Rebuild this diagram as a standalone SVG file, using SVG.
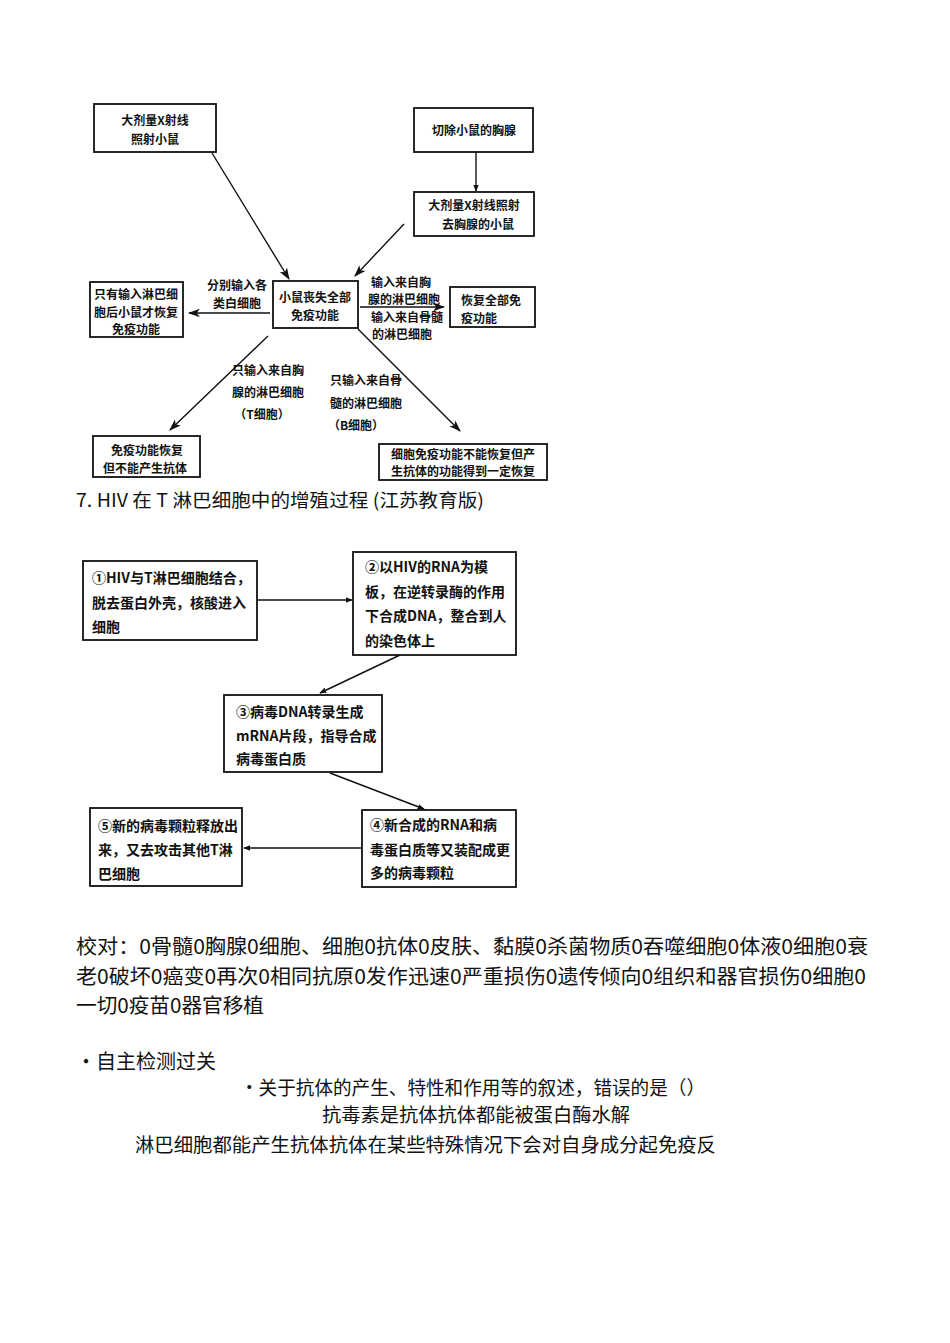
<svg xmlns="http://www.w3.org/2000/svg" width="950" height="1343" viewBox="0 0 950 1343">
<style>
.box{fill:#fff;stroke:#111;stroke-width:1.8}
.t{font-family:"Noto Sans CJK SC","Liberation Serif",serif;font-size:12px;font-weight:bold;fill:#111}
.m{text-anchor:middle}
.t2{font-family:"Noto Sans CJK SC","Liberation Serif",serif;font-size:14px;font-weight:bold;fill:#111}
.c{fill:none;stroke:#111;stroke-width:1.4}
.body{font-family:"Noto Sans CJK SC","Liberation Serif",serif;font-size:20px;fill:#111}
.s{font-family:"Noto Sans CJK SC","Liberation Sans",sans-serif;fill:#111}
</style>
<defs>
<marker id="ah" viewBox="0 0 10 10" refX="9" refY="5" markerWidth="7" markerHeight="7" orient="auto" markerUnits="userSpaceOnUse">
<path d="M0,1 L10,5 L0,9 Z" fill="#111"/>
</marker>
<marker id="ah2" viewBox="0 0 10 10" refX="9" refY="5" markerWidth="12" markerHeight="12" orient="auto" markerUnits="userSpaceOnUse">
<path d="M0,1.5 L10,5 L0,8.5 L2.5,5 Z" fill="#111"/>
</marker>
</defs>
<rect width="950" height="1343" fill="#fff"/>

<g id="connectors">
<line class="c" x1="212" y1="153" x2="289" y2="279" marker-end="url(#ah2)"/>
<line class="c" x1="476" y1="152" x2="476" y2="191" marker-end="url(#ah)"/>
<line class="c" x1="404" y1="224" x2="355" y2="276" marker-end="url(#ah2)"/>
<line class="c" x1="270" y1="313" x2="189" y2="313" marker-end="url(#ah2)"/>
<line class="c" x1="360" y1="307" x2="444" y2="307" marker-end="url(#ah2)"/>
<line class="c" x1="268" y1="336" x2="170" y2="430" marker-end="url(#ah2)"/>
<line class="c" x1="358" y1="329" x2="460" y2="431" marker-end="url(#ah2)"/>
<line class="c" x1="257" y1="600" x2="352" y2="600" marker-end="url(#ah)"/>
<line class="c" x1="400" y1="655" x2="320" y2="693" marker-end="url(#ah)"/>
<line class="c" x1="330" y1="773" x2="424" y2="809" marker-end="url(#ah)"/>
<line class="c" x1="362" y1="848" x2="244" y2="848" marker-end="url(#ah)"/>
</g>

<g id="label-left">
<text class="t m" x="237" y="290">分别输入各</text>
<text class="t m" x="237" y="308">类白细胞</text>
</g>
<g id="label-right">
<text class="t m" x="401" y="287">输入来自胸</text>
<text class="t m" x="404" y="304">腺的淋巴细胞</text>
<text class="t m" x="407" y="322">输入来自骨髓</text>
<text class="t m" x="402" y="339">的淋巴细胞</text>
</g>
<g id="label-T">
<text class="t m" x="268" y="375">只输入来自胸</text>
<text class="t m" x="268" y="397">腺的淋巴细胞</text>
<text class="t m" x="262" y="419">（T细胞）</text>
</g>
<g id="label-B">
<text class="t m" x="366" y="385">只输入来自骨</text>
<text class="t m" x="366" y="408">髓的淋巴细胞</text>
<text class="t m" x="356" y="430">（B细胞）</text>
</g>

<g id="nodeA">
<rect class="box" x="94" y="104" width="122" height="48"/>
<text class="t m" x="155" y="125">大剂量X射线</text>
<text class="t m" x="155" y="144">照射小鼠</text>
</g>
<g id="nodeB">
<rect class="box" x="414" y="108" width="119" height="44"/>
<text class="t m" x="474" y="135">切除小鼠的胸腺</text>
</g>
<g id="nodeC">
<rect class="box" x="414" y="192" width="120" height="44"/>
<text class="t m" x="474" y="210">大剂量X射线照射</text>
<text class="t m" x="478" y="229">去胸腺的小鼠</text>
</g>
<g id="nodeCenter">
<rect class="box" x="273" y="281" width="85" height="47"/>
<text class="t m" x="315" y="302">小鼠丧失全部</text>
<text class="t m" x="315" y="320">免疫功能</text>
</g>
<g id="nodeLeft">
<rect class="box" x="90" y="282" width="93" height="55"/>
<text class="t m" x="136" y="299">只有输入淋巴细</text>
<text class="t m" x="136" y="317">胞后小鼠才恢复</text>
<text class="t m" x="136" y="334">免疫功能</text>
</g>
<g id="nodeRight">
<rect class="box" x="450" y="287" width="85" height="40"/>
<text class="t" x="461" y="305">恢复全部免</text>
<text class="t" x="461" y="323">疫功能</text>
</g>
<g id="nodeBL">
<rect class="box" x="93" y="436" width="107" height="41"/>
<text class="t m" x="147" y="455">免疫功能恢复</text>
<text class="t m" x="145" y="473">但不能产生抗体</text>
</g>
<g id="nodeBR">
<rect class="box" x="379" y="444" width="168" height="36"/>
<text class="t m" x="463" y="459">细胞免疫功能不能恢复但产</text>
<text class="t m" x="463" y="476">生抗体的功能得到一定恢复</text>
</g>

<text class="s" x="76" y="507" font-size="18.5" textLength="408" lengthAdjust="spacingAndGlyphs">7. HIV 在 T 淋巴细胞中的增殖过程  (江苏教育版)</text>

<g id="step1">
<rect class="box" x="83" y="561" width="174" height="79"/>
<text class="t2" x="92" y="583">①HIV与T淋巴细胞结合，</text>
<text class="t2" x="92" y="608">脱去蛋白外壳，核酸进入</text>
<text class="t2" x="92" y="632">细胞</text>
</g>
<g id="step2">
<rect class="box" x="353" y="552" width="163" height="103"/>
<text class="t2" x="365" y="572">②以HIV的RNA为模</text>
<text class="t2" x="365" y="597">板，在逆转录酶的作用</text>
<text class="t2" x="365" y="621">下合成DNA，整合到人</text>
<text class="t2" x="365" y="646">的染色体上</text>
</g>
<g id="step3">
<rect class="box" x="224" y="695" width="158" height="77"/>
<text class="t2" x="236" y="717">③病毒DNA转录生成</text>
<text class="t2" x="236" y="741">mRNA片段，指导合成</text>
<text class="t2" x="236" y="764">病毒蛋白质</text>
</g>
<g id="step4">
<rect class="box" x="362" y="810" width="154" height="77"/>
<text class="t2" x="370" y="830">④新合成的RNA和病</text>
<text class="t2" x="370" y="855">毒蛋白质等又装配成更</text>
<text class="t2" x="370" y="878">多的病毒颗粒</text>
</g>
<g id="step5">
<rect class="box" x="90" y="808" width="152" height="78"/>
<text class="t2" x="98" y="831">⑤新的病毒颗粒释放出</text>
<text class="t2" x="98" y="855">来，又去攻击其他T淋</text>
<text class="t2" x="98" y="879">巴细胞</text>
</g>

<text class="body" x="76" y="954" textLength="792" lengthAdjust="spacingAndGlyphs">校对：0骨髓0胸腺0细胞、细胞0抗体0皮肤、黏膜0杀菌物质0吞噬细胞0体液0细胞0衰</text>
<text class="body" x="76" y="984" textLength="790" lengthAdjust="spacingAndGlyphs">老0破坏0癌变0再次0相同抗原0发作迅速0严重损伤0遗传倾向0组织和器官损伤0细胞0</text>
<text class="body" x="76" y="1013" textLength="188" lengthAdjust="spacingAndGlyphs">一切0疫苗0器官移植</text>

<text class="s" x="76" y="1069" font-size="20">•自主检测过关</text>
<text class="s" x="240" y="1095" font-size="19" textLength="465" lengthAdjust="spacingAndGlyphs">•关于抗体的产生、特性和作用等的叙述，错误的是（）</text>
<text class="s" x="322" y="1122" font-size="19" textLength="308" lengthAdjust="spacingAndGlyphs">抗毒素是抗体抗体都能被蛋白酶水解</text>
<text class="s" x="135" y="1152" font-size="19" textLength="581" lengthAdjust="spacingAndGlyphs">淋巴细胞都能产生抗体抗体在某些特殊情况下会对自身成分起免疫反</text>
</svg>
